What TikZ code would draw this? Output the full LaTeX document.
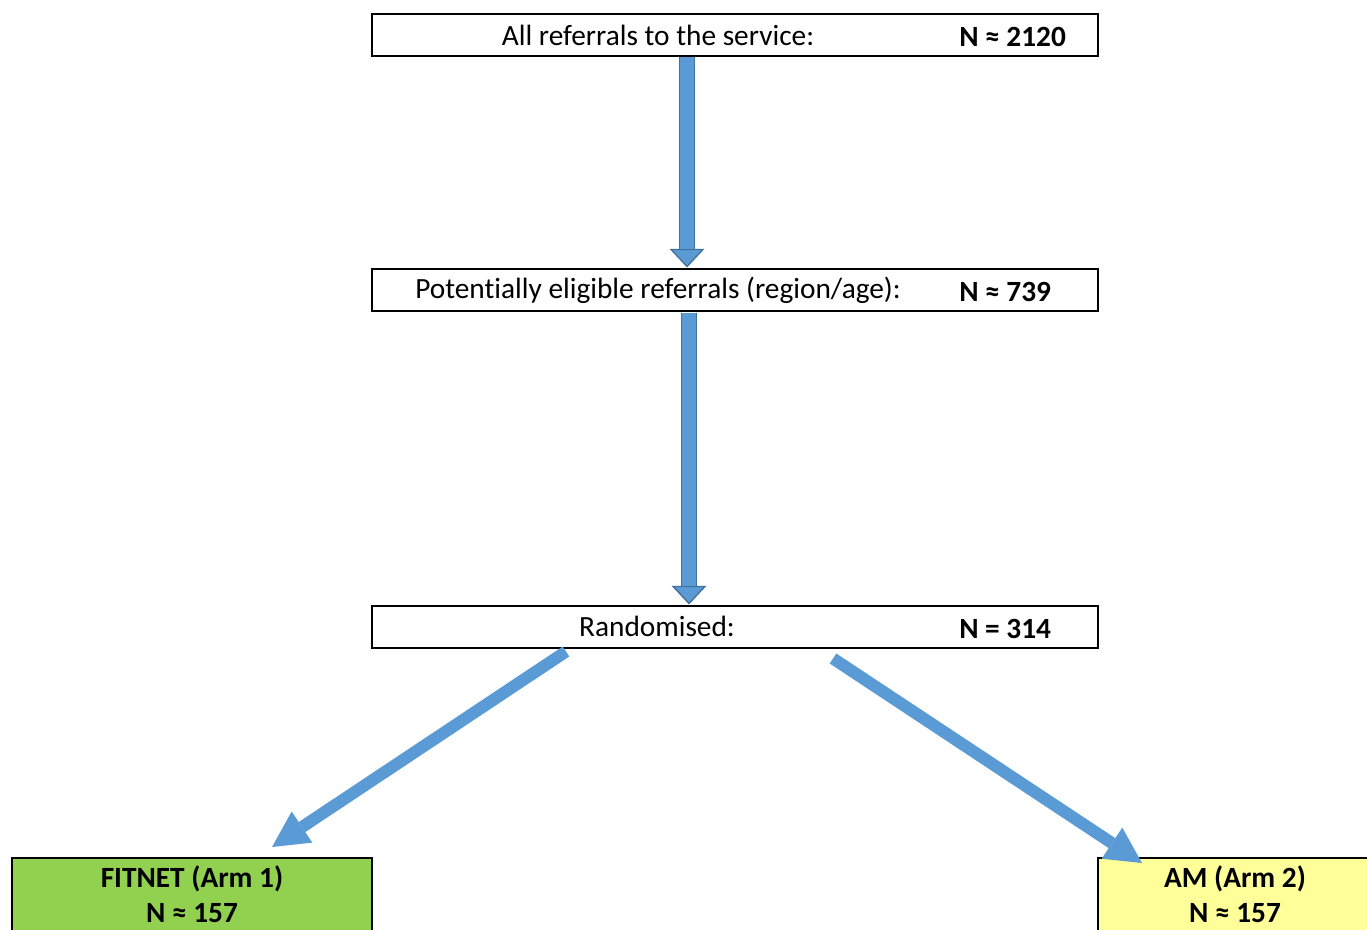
\documentclass[tikz,border=0pt]{standalone}
\usepackage{fontspec}
\setmainfont[Ligatures=NoCommon]{Carlito}
\usetikzlibrary{arrows.meta,calc}

\definecolor{arrowblue}{HTML}{5B9BD5}
\definecolor{arrowedge}{HTML}{41719C}
\definecolor{armgreen}{HTML}{92D050}
\definecolor{armyellow}{HTML}{FFFF99}

\tikzset{
  stagebox/.style={draw=black, line width=1.5pt, minimum width=544.5pt,
    minimum height=31.5pt, inner sep=0pt},
  armbox/.style={draw=black, line width=1.5pt, minimum height=76.5pt,
    inner sep=0pt},
  stagetext/.style={inner sep=0pt},
  counttext/.style={inner sep=0pt, anchor=west, font=\bfseries},
  armtext/.style={inner sep=0pt, align=center, font=\bfseries},
  blockarrow/.style={arrowedge, line width=12pt,
    -{Triangle[width=26pt,length=14pt,fill=arrowblue,line width=1pt]},
    postaction={draw=arrowblue, line width=10pt, shorten >=14pt, -}},
  splitarrow/.style={arrowblue, line width=9pt,
    -{Triangle[width=28pt,length=27pt,line width=0pt]}}
}

\begin{document}
\begin{tikzpicture}[x=0.75pt,y=-0.75pt]
  \fontsize{22}{26}\selectfont
  \clip (0,0) rectangle (1367,929);

  % stages
  \node[stagebox] (r1) at (735,35) {};
  \node[stagebox] (r2) at (735,289.5) {};
  \node[stagebox] (r3) at (735,626.5) {};

  \node[stagetext] (r1-txt) at (658,35) {All referrals to the service:};
  \node[counttext] (r1-n) at (959,37) {N ≈ 2120};
  \node[stagetext] (r2-txt) at (658,290) {Potentially eligible referrals (region/age):};
  \node[counttext] (r2-n) at (959,292) {N ≈ 739};
  \node[stagetext] (r3-txt) at (657,626) {Randomised:};
  \node[counttext] (r3-n) at (959,629) {N = 314};

  % arms
  \node[armbox, fill=armgreen, minimum width=270pt] (armA) at (192,909) {};
  \node[armbox, fill=armyellow, minimum width=219pt] (armB) at (1244,909) {};
  \node[armtext] (armA-txt) at (192,894) {FITNET (Arm 1)\\N ≈ 157};
  \node[armtext] (armB-txt) at (1235,894) {AM (Arm 2)\\N ≈ 157};

  % arrows
  \draw[blockarrow] ($(r1.south)+(-48,0)$) -- ($(r2.north)+(-48,0)$);
  \draw[blockarrow] ($(r2.south)+(-46,1)$) -- ($(r3.north)+(-46,0)$);

  \coordinate (ls) at ($(r3.south)+(-169,3)$);
  \coordinate (rs) at ($(r3.south)+(98,10)$);
  \coordinate (lt) at ($(armA.north)+(80,-10)$);
  \coordinate (rt) at ($(armB.north)+(-102,6)$);
  \draw[splitarrow] (ls) -- (lt);
  \draw[splitarrow] (rs) -- (rt);

\end{tikzpicture}
\end{document}
